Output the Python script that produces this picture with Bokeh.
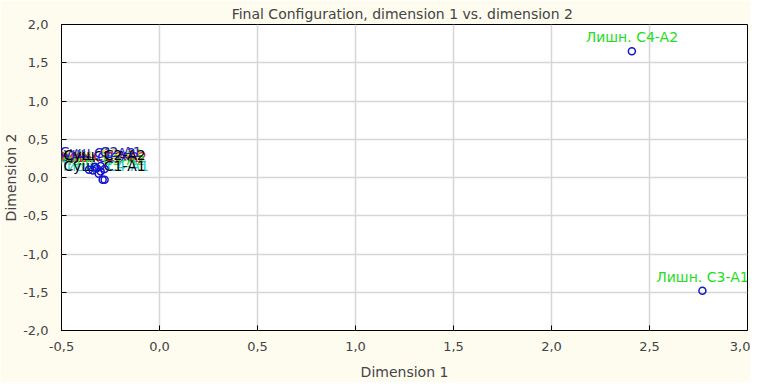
from bokeh.plotting import figure
from bokeh.models import ColumnDataSource, FixedTicker, Range1d
from bokeh.core.properties import value
from bokeh.embed import file_html
from bokeh.resources import INLINE

# Data
labels = ["Лишн. C4-A2", "Лишн. C3-A1",
          "Лишн. C1-A1", "Лишн. C1-A2", "Лишн. C2-A1", "Лишн. C2-A2",
          "Лишн. C3-A2", "Лишн. C4-A1", "Сущ. C1-A1", "Сущ. C1-A2",
          "Сущ. C2-A1", "Сущ. C2-A2"]
dim1 = [2.41, 2.77,
        -0.36, -0.34, -0.32, -0.30, -0.31, -0.29, -0.28, -0.33, -0.30, -0.28]
dim2 = [1.65, -1.48,
        0.10, 0.09, 0.12, 0.08, 0.05, -0.03, -0.03, 0.14, 0.15, 0.11]
label_colors = ["#22DD22", "#22DD22",
                "#000000", "#2222CC", "#DDDD00", "#DD2222", "#22DD22", "#22CCCC",
                "#000000", "#2222CC", "#2222CC", "#000000"]
x_ticks = [-0.5, 0.0, 0.5, 1.0, 1.5, 2.0, 2.5, 3.0]
y_ticks = [-2.0, -1.5, -1.0, -0.5, 0.0, 0.5, 1.0, 1.5, 2.0]

FONT = "DejaVu Sans"

def fmt(v):
    return f"{v:.1f}".replace(".", ",")

src = ColumnDataSource(dict(x=dim1, y=dim2, lab=labels, col=label_colors))

p = figure(width=750, height=382, output_backend="svg", toolbar_location=None,
           x_range=Range1d(-0.5, 3.0), y_range=Range1d(-2.0, 2.0),
           min_border_left=54, min_border_right=3, min_border_top=0, min_border_bottom=50,
           title="Final Configuration, dimension 1  vs. dimension 2")
p.border_fill_color = "#FEFBEF"
p.background_fill_color = "white"
p.outline_line_color = "black"
p.outline_line_width = 1
p.title.align = "center"
p.title.text_font = FONT
p.title.text_font_size = "14px"
p.title.text_font_style = "normal"
p.title.offset = 0
p.title.standoff = 6

for ax, ticks in ((p.xaxis[0], x_ticks), (p.yaxis[0], y_ticks)):
    ax.ticker = FixedTicker(ticks=ticks)
    ax.major_label_overrides = {t: fmt(t) for t in ticks}
    ax.major_tick_in = 5
    ax.major_tick_out = 0
    ax.minor_tick_line_color = None
    ax.axis_line_color = None
    ax.major_label_text_font = FONT
    ax.major_label_text_font_size = "13px"
    ax.axis_label_text_font = FONT
    ax.axis_label_text_font_size = "14px"
    ax.axis_label_text_font_style = "normal"

p.xaxis.axis_label = "Dimension 1"
p.yaxis.axis_label = "Dimension 2"
p.xaxis.major_label_standoff = 11
p.xaxis.axis_label_standoff = 10
p.yaxis.major_label_standoff = 13
p.yaxis.axis_label_standoff = 1

p.xgrid.ticker = FixedTicker(ticks=x_ticks)
p.ygrid.ticker = FixedTicker(ticks=y_ticks)
p.grid.grid_line_color = "#D6D6D6"
p.grid.grid_line_width = 1.5

p.text("x", "y", text="lab", source=src, text_color="col",
       text_align="center", text_baseline="bottom", y_offset=-6,
       text_font=value(FONT), text_font_size="14px")
p.scatter("x", "y", source=src, marker="circle", size=7, fill_color=None,
          line_color="#1515CC", line_width=1.5)

open("out.html", "w").write(file_html(p, INLINE))
